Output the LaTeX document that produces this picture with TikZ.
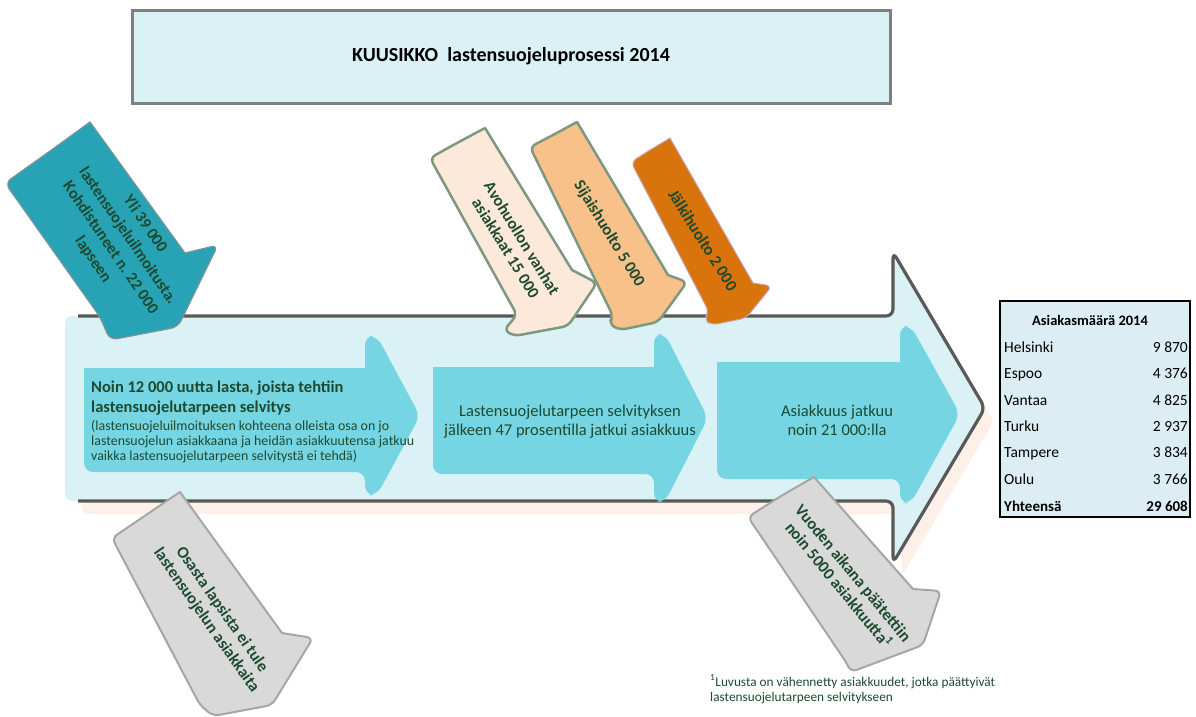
\documentclass[tikz,border=0pt]{standalone}
\usepackage{fontspec}
\setmainfont{Carlito}
\definecolor{boxc}{HTML}{DAF2F5}
\definecolor{boxline}{HTML}{7F7F7F}
\definecolor{bigline}{HTML}{595959}
\definecolor{innerc}{HTML}{76D5E2}
\definecolor{shadowc}{HTML}{FDF0E9}
\definecolor{tealc}{HTML}{27A3B5}
\definecolor{tealline}{HTML}{7A9598}
\definecolor{peachc}{HTML}{FDE9D9}
\definecolor{lorangec}{HTML}{F9C18A}
\definecolor{orangec}{HTML}{D9730C}
\definecolor{orangeline}{HTML}{C3A6B6}
\definecolor{greenline}{HTML}{7E9781}
\definecolor{grayc}{HTML}{D9D9D9}
\definecolor{grayline}{HTML}{A6A6A6}
\definecolor{txtgreen}{HTML}{1D4A30}
\definecolor{tablec}{HTML}{DCEEF4}
\begin{document}
\begin{tikzpicture}[x=1pt,y=-1pt,
  diaglbl/.style={text=txtgreen,font=\fontsize{16.5}{19}\selectfont\bfseries,align=center,inner sep=0pt},
  bodytxt/.style={text=txtgreen,font=\fontsize{16.5}{19}\selectfont,inner sep=0pt},
  boldtxt/.style={text=txtgreen,font=\fontsize{16.5}{19}\selectfont\bfseries,inner sep=0pt},
  smalltxt/.style={text=txtgreen,font=\fontsize{13.9}{15}\selectfont,inner sep=0pt},
  foottxt/.style={text=txtgreen,font=\fontsize{13.3}{15}\selectfont,inner sep=0pt},
  tabtxt/.style={font=\fontsize{15.5}{18}\selectfont,inner sep=0pt},
  tabbold/.style={font=\fontsize{15}{18}\selectfont\bfseries,inner sep=0pt},
  diagline/.style={line width=2pt,line join=round}
]
\useasboundingbox (0,0) rectangle (1196,716);
\clip (0,0) rectangle (1196,716);

% title
\node[draw=boxline,line width=3pt,fill=boxc,minimum width=758pt,minimum height=93pt,inner sep=0pt,
  font=\fontsize{20}{24}\selectfont\bfseries] (title) at (511,56.5) {KUUSIKKO\ \ lastensuojeluprosessi 2014};

% big arrow: shadow, fill, outline
\fill[shadowc,rounded corners=7pt,shift={(9,13)}] (73,316) -- (893,316) -- (893,252) -- (985,408) -- (893,563) -- (893,501) -- (73,501) -- cycle;
\fill[boxc,rounded corners=7pt] (65,316) -- (893,316) -- (893,252) -- (985,408) -- (893,563) -- (893,501) -- (65,501) -- cycle;
\draw[bigline,line width=3.2pt,rounded corners=7pt] (78,316) -- (893,316) -- (893,252) -- (985,408) -- (893,563) -- (893,501) -- (78,501);

% inner arrows
\fill[innerc] (84,420) -- (84,368) -- (365,368) [rounded corners=9pt] -- (365,336) -- (377,336) -- (420,416) -- (377,495) -- (365,495) -- (365,472) -- (84,472) [sharp corners] -- cycle;
\fill[innerc] (433,420) -- (433,367) -- (654,367) [rounded corners=9pt] -- (654,334) -- (665,334) -- (708,418) -- (665,502) -- (654,502) -- (654,474) -- (433,474) [sharp corners] -- cycle;
\fill[innerc] (717,420) -- (717,362) -- (900,362) [rounded corners=9pt] -- (900,326) -- (911,326) -- (960,414) -- (911,503) -- (900,503) -- (900,479) -- (717,479) [sharp corners] -- cycle;

% texts of inner arrows
\node[boldtxt,anchor=base west] (a1l1) at (91,392.5) {Noin 12 000 uutta lasta, joista tehtiin};
\node[boldtxt,anchor=base west] (a1l2) at (91,412) {lastensuojelutarpeen selvitys};
\node[smalltxt,anchor=base west] (a1l3) at (91,430) {(lastensuojeluilmoituksen kohteena olleista osa on jo};
\node[smalltxt,anchor=base west] (a1l4) at (91,445) {lastensuojelun asiakkaana ja heidän asiakkuutensa jatkuu};
\node[smalltxt,anchor=base west] (a1l5) at (91,460) {vaikka lastensuojelutarpeen selvitystä ei tehdä)};
\node[bodytxt,anchor=base] (a2l1) at (570,416) {Lastensuojelutarpeen selvityksen};
\node[bodytxt,anchor=base] (a2l2) at (570,435) {jälkeen 47 prosentilla jatkui asiakkuus};
\node[bodytxt,anchor=base] (a3l1) at (837,416) {Asiakkuus jatkuu};
\node[bodytxt,anchor=base] (a3l2) at (837,435) {noin 21 000:lla};

% teal arrow
\filldraw[fill=tealc,draw=tealline,line width=1.2pt] (50,151) -- (90,122) -- (185,253) [rounded corners=7pt] -- (218,245) -- (178,327) -- (110,340) -- (100,317) -- (5,183) [sharp corners] -- cycle;
\node[diaglbl,rotate=-55.7,font=\fontsize{16.2}{21}\selectfont\bfseries] (teal) at (119,242) {Yli 39 000\\lastensuojeluilmoitusta.\\Kohdistuneet n. 22 000\\lapseen};

% avohuolto
\filldraw[fill=peachc,draw=greenline,diagline,line width=2.5pt] (457,143) -- (485,128) -- (572,270) [rounded corners=6pt] -- (597,283) -- (568,326) -- (514,336) -- (504,330) -- (517,315) -- (430,158) [sharp corners] -- cycle;
\node[diaglbl,rotate=-58.5] (avo) at (514,243) {Avohuollon vanhat\\asiakkaat 15 000};

% sijaishuolto
\filldraw[fill=lorangec,draw=greenline,diagline,line width=2.5pt] (553,135) -- (577,122) -- (668,275) [rounded corners=6pt] -- (687,282) -- (658,322) -- (620,330) -- (609,324) -- (613,316) -- (530,147) [sharp corners] -- cycle;
\node[diaglbl,rotate=-58.5] (sij) at (609,234) {Sijaishuolto 5 000};

% jalkihuolto
\filldraw[fill=orangec,draw=orangeline,line width=1pt] (650,150) -- (670,138) -- (753,283) [rounded corners=6pt] -- (772,286) -- (746,318) -- (712,325) -- (704,320) -- (709,312) -- (631,162) [sharp corners] -- cycle;
\node[diaglbl,rotate=-58] (jal) at (703,240) {Jälkihuolto 2 000};

% gray arrow left
\filldraw[fill=grayc,draw=grayline,diagline] (146,515) -- (180,492) -- (282,633) [rounded corners=6pt] -- (313,638) -- (272,705) -- (213,716) -- (200,705) -- (112,538) [sharp corners] -- cycle;
\node[diaglbl,rotate=-55] (osa) at (214,615) {Osasta lapsista ei tule\\lastensuojelun asiakkaita};

% gray arrow right
\filldraw[fill=grayc,draw=grayline,diagline] (781,496) -- (814,477) -- (913,589) [rounded corners=6pt] -- (941,591) -- (923,645) -- (851,672) -- (846,662) -- (748,517) [sharp corners] -- cycle;
\node[diaglbl,rotate=-50.5] (vuo) at (846,579) {Vuoden aikana päätettiin\\noin 5000 asiakkuutta\textsuperscript{1}};

% table
\node[draw=black,line width=2pt,fill=tablec,minimum width=190pt,minimum height=216pt,inner sep=0pt] (tbl) at (1095,409) {};
\node[tabbold,font=\fontsize{14.5}{18}\selectfont\bfseries,anchor=base] (th) at (1090,325) {Asiakasmäärä 2014};
\node[tabtxt,anchor=base west] (c1) at (1004,352) {Helsinki};
\node[tabtxt,anchor=base east] (n1) at (1188,352) {9 870};
\node[tabtxt,anchor=base west] (c2) at (1004,378) {Espoo};
\node[tabtxt,anchor=base east] (n2) at (1188,378) {4 376};
\node[tabtxt,anchor=base west] (c3) at (1004,405) {Vantaa};
\node[tabtxt,anchor=base east] (n3) at (1188,405) {4 825};
\node[tabtxt,anchor=base west] (c4) at (1004,431) {Turku};
\node[tabtxt,anchor=base east] (n4) at (1188,431) {2 937};
\node[tabtxt,anchor=base west] (c5) at (1004,457) {Tampere};
\node[tabtxt,anchor=base east] (n5) at (1188,457) {3 834};
\node[tabtxt,anchor=base west] (c6) at (1004,484) {Oulu};
\node[tabtxt,anchor=base east] (n6) at (1188,484) {3 766};
\node[tabbold,anchor=base west] (c7) at (1004,511) {Yhteensä};
\node[tabbold,anchor=base east] (n7) at (1188,511) {29 608};

% footnote
\node[foottxt,anchor=base west] (fn1) at (710,686) {\textsuperscript{1}Luvusta on vähennetty asiakkuudet, jotka päättyivät};
\node[foottxt,anchor=base west] (fn2) at (710,701.5) {lastensuojelutarpeen selvitykseen};
\end{tikzpicture}
\end{document}
